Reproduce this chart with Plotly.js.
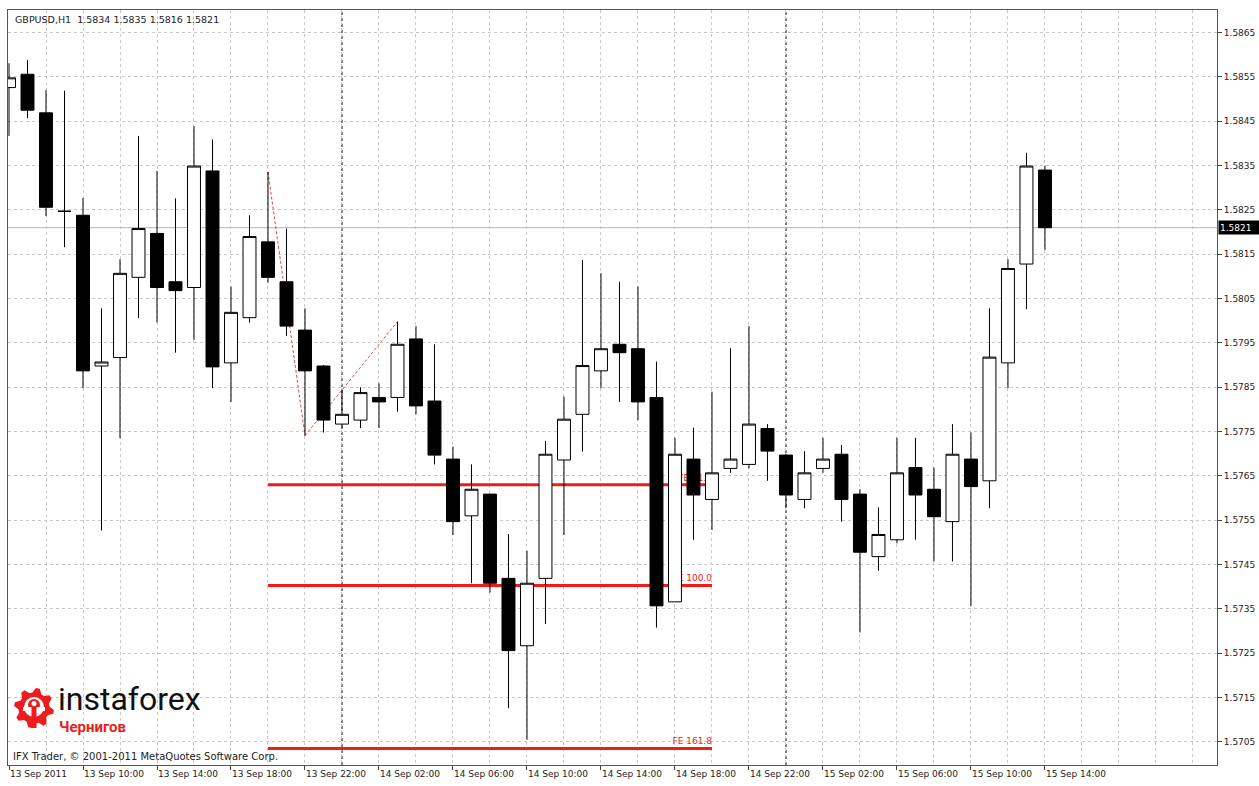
<!DOCTYPE html>
<html>
<head>
<meta charset="utf-8">
<script src="https://cdn.plot.ly/plotly-3.0.1.min.js"></script>
<style>
  html, body { margin: 0; padding: 0; background: #fff; }
  #chart { width: 1259px; height: 786px; }
</style>
</head>
<body>
<div id="chart"></div>
<script>
// ---------------- DATA (GBPUSD, H1, from 13 Sep 2011 06:00) ----------------
const firstBar = '2011-09-13 06:00';
const open  = [1.58526,1.58556,1.58469,1.58247,1.58238,1.57898,1.57917,1.58098,1.58197,1.58088,
               1.58075,1.58338,1.57905,1.58007,1.58178,1.58088,1.57979,1.57898,1.57767,1.57776,
               1.57827,1.57827,1.57959,1.57819,1.57688,1.57560,1.57609,1.57419,1.57267,1.57419,
               1.57686,1.57789,1.57887,1.57947,1.57937,1.57827,1.57366,1.57688,1.57597,1.57667,
               1.57676,1.57757,1.57697,1.57597,1.57667,1.57699,1.57609,1.57468,1.57506,1.57669,
               1.57620,1.57547,1.57688,1.57639,1.57905,1.58128,1.58340];
const high  = [1.58581,1.58588,1.58520,1.58519,1.58277,1.58028,1.58139,1.58417,1.58338,1.58276,
               1.58439,1.58409,1.58077,1.58238,1.58336,1.58208,1.58028,1.57900,1.57845,1.57850,
               1.57859,1.57998,1.57988,1.57947,1.57716,1.57676,1.57610,1.57519,1.57481,1.57729,
               1.57829,1.58137,1.58107,1.58088,1.58077,1.57908,1.57736,1.57759,1.57840,1.57938,
               1.57988,1.57767,1.57700,1.57706,1.57736,1.57720,1.57620,1.57579,1.57736,1.57736,
               1.57669,1.57767,1.57748,1.58028,1.58139,1.58379,1.58350];
const low   = [1.58417,1.58457,1.58236,1.58166,1.57848,1.57527,1.57735,1.58006,1.57996,1.57928,
               1.57957,1.57848,1.57817,1.57996,1.58086,1.57966,1.57741,1.57748,1.57759,1.57758,
               1.57758,1.57795,1.57789,1.57676,1.57517,1.57408,1.57387,1.57126,1.57055,1.57316,
               1.57517,1.57705,1.57848,1.57817,1.57776,1.57308,1.57366,1.57506,1.57528,1.57657,
               1.57667,1.57639,1.57578,1.57577,1.57657,1.57547,1.57297,1.57436,1.57498,1.57506,
               1.57457,1.57457,1.57357,1.57577,1.57848,1.58026,1.58160];
const close = [1.58548,1.58475,1.58256,1.58247,1.57887,1.57907,1.58107,1.58208,1.58075,1.58068,
               1.58349,1.57896,1.58019,1.58190,1.58098,1.57988,1.57887,1.57776,1.57789,1.57838,
               1.57817,1.57947,1.57808,1.57697,1.57547,1.57620,1.57408,1.57256,1.57408,1.57699,
               1.57778,1.57899,1.57937,1.57928,1.57817,1.57357,1.57699,1.57607,1.57657,1.57688,
               1.57767,1.57706,1.57607,1.57657,1.57688,1.57597,1.57478,1.57518,1.57657,1.57607,
               1.57558,1.57699,1.57626,1.57918,1.58118,1.58349,1.58210];

const bidPrice = 1.5821;

// Fibonacci expansion anchor points (A high, B low, C high)
const fibTimes  = ['2011-09-13 20:00', '2011-09-13 22:00', '2011-09-14 03:00'];
const fibPrices = [1.58336, 1.57741, 1.57998];
const fibRatios = [0.618, 1.0, 1.618];
const fibLabels = ['FE 61.8', 'FE 100.0', 'FE 161.8'];
const fibStart = '2011-09-13 20:00';
const fibEnd   = '2011-09-14 20:00';

const daySeparators = ['2011-09-14 00:00', '2011-09-15 00:00'];

const tickVals = ['2011-09-13 06:00','2011-09-13 10:00','2011-09-13 14:00','2011-09-13 18:00','2011-09-13 22:00',
                  '2011-09-14 02:00','2011-09-14 06:00','2011-09-14 10:00','2011-09-14 14:00','2011-09-14 18:00',
                  '2011-09-14 22:00','2011-09-15 02:00','2011-09-15 06:00','2011-09-15 10:00','2011-09-15 14:00'];
const tickText = ['13 Sep 2011','13 Sep 10:00','13 Sep 14:00','13 Sep 18:00','13 Sep 22:00',
                  '14 Sep 02:00','14 Sep 06:00','14 Sep 10:00','14 Sep 14:00','14 Sep 18:00',
                  '14 Sep 22:00','15 Sep 02:00','15 Sep 06:00','15 Sep 10:00','15 Sep 14:00'];

const headerText = 'GBPUSD,H1  1.5834 1.5835 1.5816 1.5821';
const copyrightText = 'IFX Trader, © 2001-2011 MetaQuotes Software Corp.';

// ---------------- helpers ----------------
function pad(n){ return (n < 10 ? '0' : '') + n; }
function fmt(ms){
  const d = new Date(ms);
  return d.getUTCFullYear() + '-' + pad(d.getUTCMonth()+1) + '-' + pad(d.getUTCDate()) + ' ' +
         pad(d.getUTCHours()) + ':' + pad(d.getUTCMinutes());
}
const t0 = Date.parse(firstBar.replace(' ', 'T') + ':00Z');
const times = open.map((_, i) => fmt(t0 + i * 3600e3));

// plot-area geometry (pixels) for decorative items
const W = 1259, H = 786, ML = 8, MR = 42, MT = 10, MB = 21;
const PW = W - ML - MR, PH = H - MT - MB;
const px = x => (x - ML) / PW;
const py = y => (H - MB - y) / PH;

const RED = '#ee1c1c';
const FONT = 'DejaVu Sans, Liberation Sans, sans-serif';

// ---------------- traces ----------------
const candles = {
  type: 'candlestick',
  x: times, open: open, high: high, low: low, close: close,
  increasing: { line: { color: '#000', width: 1 }, fillcolor: '#ffffff' },
  decreasing: { line: { color: '#000', width: 1 }, fillcolor: '#000000' },
  whiskerwidth: 0,
  hoverinfo: 'none',
  showlegend: false
};

// ---------------- shapes ----------------
const shapes = [];
shapes.push({ type: 'line', xref: 'paper', x0: 0, x1: 1, yref: 'y', y0: bidPrice, y1: bidPrice,
              line: { color: '#b4b4b4', width: 1 }, layer: 'between' });
daySeparators.forEach(d => shapes.push({
  type: 'line', xref: 'x', x0: d, x1: d, yref: 'paper', y0: 0, y1: 1,
  line: { color: '#000', width: 1, dash: '3px,3px' }, layer: 'between'
}));
for (let k = 0; k < fibTimes.length - 1; k++) {
  shapes.push({ type: 'line', xref: 'x', yref: 'y',
    x0: fibTimes[k], y0: fibPrices[k], x1: fibTimes[k+1], y1: fibPrices[k+1],
    line: { color: '#e04848', width: 1, dash: '3px,2px' }, layer: 'between' });
}
const fibRange = fibPrices[0] - fibPrices[1];
fibRatios.forEach((r, k) => {
  const lvl = fibPrices[2] - r * fibRange;
  shapes.push({ type: 'line', xref: 'x', yref: 'y', x0: fibStart, x1: fibEnd, y0: lvl, y1: lvl,
    line: { color: RED, width: 3 }, layer: 'between',
    label: { text: fibLabels[k], textposition: 'end', xanchor: 'right', yanchor: 'bottom',
             padding: 3, font: { family: FONT, size: 9, color: RED } } });
});

// logo gear (decorative)
(function(){
  const cx = 34, cy = 708, rOut = 20, rIn = 15.5, n = 8;
  let d = '';
  const steps = n * 4;
  for (let s = 0; s < steps; s++) {
    const a = (s / steps) * 2 * Math.PI - Math.PI / 2 + Math.PI / steps;
    const r = (s % 4 === 0 || s % 4 === 1) ? rOut : rIn;
    const x = px(cx + r * Math.cos(a)), y = py(cy + r * Math.sin(a));
    d += (s === 0 ? 'M' : 'L') + x.toFixed(5) + ',' + y.toFixed(5);
  }
  d += 'Z';
  shapes.push({ type: 'path', xref: 'paper', yref: 'paper', path: d, fillcolor: RED, line: { width: 0 }, layer: 'above' });
  shapes.push({ type: 'circle', xref: 'paper', yref: 'paper', x0: px(cx-10), x1: px(cx+10), y0: py(cy+9), y1: py(cy-11),
                fillcolor: '#fff', line: { width: 0 }, layer: 'above' });
  shapes.push({ type: 'circle', xref: 'paper', yref: 'paper', x0: px(cx-6), x1: px(cx+6), y0: py(cy+3), y1: py(cy-9),
                fillcolor: RED, line: { width: 0 }, layer: 'above' });
  shapes.push({ type: 'rect', xref: 'paper', yref: 'paper', x0: px(cx-11), x1: px(cx+11), y0: py(cy+3), y1: py(cy-1),
                fillcolor: '#fff', line: { width: 0 }, layer: 'above' });
  shapes.push({ type: 'rect', xref: 'paper', yref: 'paper', x0: px(cx-2.5), x1: px(cx+2.5), y0: py(cy+20), y1: py(cy-4),
                fillcolor: RED, line: { width: 0 }, layer: 'above' });
  shapes.push({ type: 'circle', xref: 'paper', yref: 'paper', x0: px(cx-2.5), x1: px(cx+2.5), y0: py(cy-2), y1: py(cy-7),
                fillcolor: '#fff', line: { width: 0 }, layer: 'above' });
})();

// ---------------- annotations ----------------
const annotations = [
  { xref: 'paper', yref: 'paper', x: px(13), y: py(20), xanchor: 'left', yanchor: 'middle',
    text: headerText.replace(/ /g, '&nbsp;'), showarrow: false, font: { family: FONT, size: 9.5, color: '#222' } },
  { xref: 'paper', yref: 'paper', x: px(11), y: py(756), xanchor: 'left', yanchor: 'middle',
    text: copyrightText, showarrow: false, font: { family: FONT, size: 10, color: '#222' } },
  { xref: 'paper', yref: 'y', x: 1, y: bidPrice, xanchor: 'left', yanchor: 'middle', xshift: 1,
    text: bidPrice.toFixed(4), showarrow: false, bgcolor: '#000', borderpad: 1, width: 38, height: 11, align: 'left',
    font: { family: FONT, size: 9, color: '#fff' } },
  { xref: 'paper', yref: 'paper', x: px(56), y: py(699), xanchor: 'left', yanchor: 'middle',
    text: 'instaforex', showarrow: false, font: { family: 'Roboto, Noto Sans, sans-serif', size: 32, color: '#111' } },
  { xref: 'paper', yref: 'paper', x: px(57), y: py(727), xanchor: 'left', yanchor: 'middle',
    text: '<b>Чернигов</b>', showarrow: false, font: { family: 'Roboto, Noto Sans, sans-serif', size: 15, color: RED } }
];

// ---------------- layout ----------------
const gridStyle = { gridcolor: '#c9c9c9', griddash: '3px,3px', gridwidth: 1 };
const layout = {
  width: W, height: H,
  margin: { l: ML, r: MR, t: MT, b: MB, pad: 0 },
  paper_bgcolor: '#fff', plot_bgcolor: '#fff',
  showlegend: false,
  boxgap: 0.3, boxgroupgap: 0,
  hovermode: false,
  xaxis: Object.assign({
    type: 'date',
    range: ['2011-09-13 05:56:45', '2011-09-15 23:18'],
    tickvals: tickVals, ticktext: tickText,
    ticks: 'outside', ticklen: 4, tickcolor: '#444', tickwidth: 1,
    ticklabelposition: 'outside right',
    tickfont: { family: FONT, size: 9, color: '#222' },
    showgrid: true,
    minor: { dtick: 7200000, tick0: '2011-09-13 06:00', showgrid: true, gridcolor: '#c9c9c9', griddash: '3px,3px', ticks: '' },
    showline: true, linecolor: '#555', linewidth: 1, mirror: true,
    zeroline: false, fixedrange: true,
    rangeslider: { visible: false }
  }, gridStyle),
  yaxis: Object.assign({
    side: 'right',
    range: [1.56998, 1.58701],
    tick0: 1.5705, dtick: 0.001, tickformat: '.4f',
    ticks: 'outside', ticklen: 4, tickcolor: '#444', tickwidth: 1,
    tickfont: { family: FONT, size: 9, color: '#222' },
    showgrid: true,
    showline: true, linecolor: '#555', linewidth: 1, mirror: true,
    zeroline: false, fixedrange: true
  }, gridStyle),
  shapes: shapes,
  annotations: annotations
};

Plotly.newPlot('chart', [candles], layout, { staticPlot: true, displayModeBar: false });
</script>
</body>
</html>
